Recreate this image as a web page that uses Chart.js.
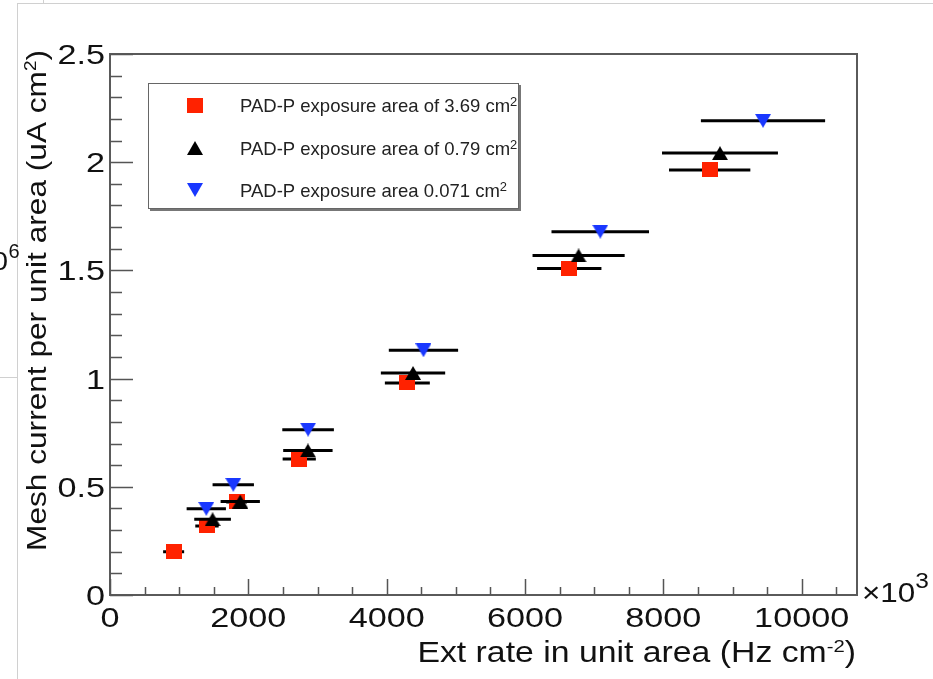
<!DOCTYPE html>
<html>
<head>
<meta charset="utf-8">
<script src="https://cdn.jsdelivr.net/npm/chart.js"></script>
<style>
    body { margin: 0; background: #fff; }
    #caixa { width: 933px; height: 679px; }
</style>
</head>
<body>
<div id="caixa"><canvas id="grafico"></canvas></div>
<script>
// Valores (x em Hz cm-2, y em uA cm-2 x 10^6)
const serieNomes = ['PAD-P exposure area of 3.69 cm^{2}', 'PAD-P exposure area of 0.79 cm^{2}', 'PAD-P exposure area 0.071 cm^{2}'];

const vermelhoX = [920, 1402, 1831, 2736, 4299, 6640, 8670];
const vermelhoY = [0.200, 0.319, 0.430, 0.628, 0.980, 1.509, 1.964];
const vermelhoErroX = [152, 169, 150, 240, 325, 465, 588];

const pretoX = [1483, 1883, 2861, 4381, 6775, 8819];
const pretoY = [0.350, 0.432, 0.668, 1.026, 1.569, 2.042];
const pretoErroX = [265, 284, 357, 465, 666, 838];

const azulX = [1392, 1782, 2864, 4532, 7088, 9441];
const azulY = [0.398, 0.509, 0.764, 1.131, 1.679, 2.191];
const azulErroX = [284, 299, 373, 501, 705, 898];

const ticksX = ['0', '2000', '4000', '6000', '8000', '10000'];
const ticksY = ['0', '0.5', '1', '1.5', '2', '2.5'];

const tituloX = 'Ext rate in unit area (Hz cm^{-2})';
const tituloY = 'Mesh current per unit area (uA cm^{2})';
const expoenteX = '\u00d710^{3}';
const expoenteY = '10^{6}';

const errosX = [vermelhoErroX, pretoErroX, azulErroX];
const fonte = '"Liberation Sans", Arial, sans-serif';

// Marcadores no estilo do ROOT (quadrado, triangulo para cima e para baixo)
function criarMarcador(tipo, cor) {
    let c = document.createElement('canvas');
    c.width = 16;
    c.height = tipo === 'quadrado' ? 15 : 14;
    let g = c.getContext('2d');
    g.fillStyle = cor;
    g.beginPath();
    if (tipo === 'quadrado') {
        g.rect(0, 0, 16, 15);
    } else if (tipo === 'cima') {
        g.moveTo(0, 14); g.lineTo(8, 0); g.lineTo(16, 14);
    } else {
        g.moveTo(0, 0); g.lineTo(16, 0); g.lineTo(8, 14);
    }
    g.closePath();
    g.fill();
    return c;
}

const marcadores = [
    criarMarcador('quadrado', 'rgb(255, 34, 0)'),
    criarMarcador('cima', 'rgb(0, 0, 0)'),
    criarMarcador('baixo', 'rgb(25, 55, 255)')
];

// Separa o texto em partes normais e expoentes ^{...}
function partesTexto(texto) {
    let partes = [];
    let re = /\^\{([^}]*)\}/g;
    let ultimo = 0;
    let m;
    while ((m = re.exec(texto)) !== null) {
        if (m.index > ultimo) partes.push({ t: texto.slice(ultimo, m.index), sup: false });
        partes.push({ t: m[1], sup: true });
        ultimo = re.lastIndex;
    }
    if (ultimo < texto.length) partes.push({ t: texto.slice(ultimo), sup: false });
    return partes;
}

function escrever(ctx, texto, x, y, o) {
    let partes = partesTexto(texto);
    ctx.save();
    ctx.translate(x, y);
    if (o.girar) ctx.rotate(o.girar);
    ctx.scale(o.esticar || 1, 1);
    ctx.fillStyle = o.cor || '#111';
    ctx.textBaseline = 'alphabetic';
    ctx.textAlign = 'left';
    let total = 0;
    partes.forEach(function (p) {
        p.tam = p.sup ? o.tamanho * (o.supEscala || 0.6) : o.tamanho;
        ctx.font = p.tam + 'px ' + fonte;
        p.w = ctx.measureText(p.t).width;
        total += p.w;
    });
    let px = o.alinhar === 'right' ? -total : (o.alinhar === 'center' ? -total / 2 : 0);
    partes.forEach(function (p) {
        ctx.font = p.tam + 'px ' + fonte;
        ctx.fillText(p.t, px, p.sup ? -o.tamanho * (o.supSobe || 0.36) : 0);
        px += p.w;
    });
    ctx.restore();
}

const pluginRoot = {
    id: 'pluginRoot',
    beforeDraw(chart) {
        const ctx = chart.ctx;
        ctx.save();
        ctx.fillStyle = '#fff';
        ctx.fillRect(0, 0, chart.width, chart.height);
        // linhas cinzas da captura de tela
        ctx.strokeStyle = '#d0d0d0';
        ctx.lineWidth = 1;
        ctx.beginPath();
        ctx.moveTo(17.5, 3); ctx.lineTo(17.5, chart.height);
        ctx.moveTo(17, 3.5); ctx.lineTo(chart.width, 3.5);
        ctx.moveTo(0, 377.5); ctx.lineTo(17, 377.5);
        ctx.moveTo(43.5, 0); ctx.lineTo(43.5, 3);
        ctx.stroke();
        ctx.restore();
    },
    beforeDatasetDraw(chart, args) {
        // barras de erro horizontais, desenhadas antes dos marcadores da mesma serie
        const ctx = chart.ctx;
        const xs = chart.scales.x;
        const ys = chart.scales.y;
        const ds = chart.data.datasets[args.index];
        const erros = errosX[args.index];
        ctx.save();
        ctx.strokeStyle = '#000';
        ctx.lineWidth = 3;
        ctx.beginPath();
        ds.data.forEach(function (p, i) {
            let yp = ys.getPixelForValue(p.y);
            ctx.moveTo(xs.getPixelForValue(p.x - erros[i]), yp);
            ctx.lineTo(xs.getPixelForValue(p.x + erros[i]), yp);
        });
        ctx.stroke();
        ctx.restore();
    },
    afterDraw(chart) {
        const ctx = chart.ctx;
        const a = chart.chartArea;
        const xs = chart.scales.x;
        const ys = chart.scales.y;

        // moldura
        ctx.save();
        ctx.strokeStyle = '#5a5a5a';
        ctx.lineWidth = 2;
        ctx.strokeRect(a.left, a.top, a.right - a.left, a.bottom - a.top);

        // ticks para dentro
        ctx.strokeStyle = '#555';
        ctx.lineWidth = 1.5;
        ctx.beginPath();
        for (let v = 0; v <= ys.max + 1e-6; v += 0.1) {
            let yp = Math.round(ys.getPixelForValue(v)) + 0.5;
            let grande = Math.abs(v / 0.5 - Math.round(v / 0.5)) < 1e-6;
            ctx.moveTo(a.left, yp);
            ctx.lineTo(a.left + (grande ? 23 : 12), yp);
        }
        for (let v = 0; v <= xs.max; v += 500) {
            let xp = Math.round(xs.getPixelForValue(v)) + 0.5;
            let grande = v % 2000 === 0;
            ctx.moveTo(xp, a.bottom);
            ctx.lineTo(xp, a.bottom - (grande ? 16 : 8));
        }
        ctx.stroke();
        ctx.restore();

        // rotulos dos eixos
        ticksY.forEach(function (t) {
            escrever(ctx, t, a.left - 5, ys.getPixelForValue(Number(t)) + 10, { tamanho: 28.5, esticar: 1.2, alinhar: 'right' });
        });
        ticksX.forEach(function (t) {
            escrever(ctx, t, xs.getPixelForValue(Number(t)), 627, { tamanho: 28.5, esticar: 1.2, alinhar: 'center' });
        });

        // titulos
        escrever(ctx, tituloX, 856, 662, { tamanho: 29, esticar: 1.165, alinhar: 'right', supEscala: 0.6, supSobe: 0.36 });
        escrever(ctx, tituloY, 46, 50, { tamanho: 27.5, esticar: 1.15, alinhar: 'right', girar: -Math.PI / 2, supEscala: 0.6, supSobe: 0.36 });
        escrever(ctx, expoenteX, a.right + 5, 602, { tamanho: 28, esticar: 1.12, alinhar: 'left', supEscala: 0.78, supSobe: 0.51 });
        let pe = partesTexto(expoenteY);
        escrever(ctx, pe[0].t, 8, 270, { tamanho: 25, esticar: 1.15, alinhar: 'right' });
        escrever(ctx, pe[1].t, 8.5, 258, { tamanho: 20, alinhar: 'left' });

        // legenda
        ctx.save();
        ctx.fillStyle = '#fff';
        ctx.fillRect(148.5, 83.5, 370, 125);
        ctx.strokeStyle = '#666';
        ctx.lineWidth = 1;
        ctx.strokeRect(148.5, 83.5, 370, 125);
        ctx.fillStyle = '#777';
        ctx.fillRect(519, 85, 2, 125);
        ctx.fillRect(150, 209, 371, 2);
        ctx.restore();
        const linhas = [105, 148, 190];
        serieNomes.forEach(function (nome, i) {
            let m = marcadores[i];
            ctx.drawImage(m, 195 - m.width / 2, linhas[i] - m.height / 2);
            escrever(ctx, nome, 240, linhas[i] + 6.7, { tamanho: 18.5, alinhar: 'left', cor: '#222', supEscala: 0.7, supSobe: 0.31 });
        });
    }
};

function montarPontos(xs, ys) {
    let pontos = [];
    for (let i = 0; i < xs.length; i++) {
        pontos.push({ x: xs[i], y: ys[i] });
    }
    return pontos;
}

// Criando estrutura para plotar gráfico - dados
let dados = {
    datasets: [
        { label: serieNomes[0], data: montarPontos(vermelhoX, vermelhoY), pointStyle: marcadores[0], pointRadius: 8, order: 3 },
        { label: serieNomes[1], data: montarPontos(pretoX, pretoY), pointStyle: marcadores[1], pointRadius: 8, order: 2 },
        { label: serieNomes[2], data: montarPontos(azulX, azulY), pointStyle: marcadores[2], pointRadius: 8, order: 1 }
    ]
};

// Criando estrutura para plotar gráfico - config
const config = {
    type: 'scatter',
    data: dados,
    plugins: [pluginRoot],
    options: {
        responsive: true,
        maintainAspectRatio: false,
        animation: false,
        devicePixelRatio: 1,
        events: [],
        layout: { padding: { left: 0, top: 54, right: 76, bottom: 0 } },
        plugins: { legend: { display: false }, tooltip: { enabled: false } },
        scales: {
            x: {
                type: 'linear', min: 0, max: 10800,
                grid: { display: false }, border: { display: false },
                ticks: { display: false },
                afterFit: function (scale) { scale.height = 84; }
            },
            y: {
                type: 'linear', min: 0, max: 2.5,
                grid: { display: false }, border: { display: false },
                ticks: { display: false },
                afterFit: function (scale) { scale.width = 110; }
            }
        }
    }
};

let grafico = new Chart(document.getElementById('grafico'), config);
</script>
</body>
</html>
